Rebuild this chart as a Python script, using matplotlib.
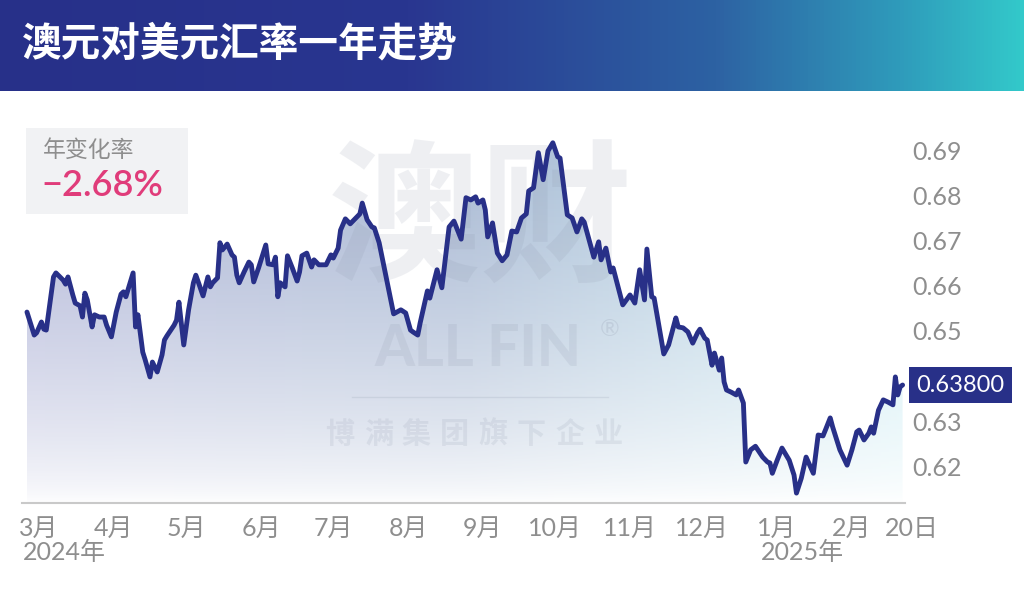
import numpy as np
import matplotlib
matplotlib.use("Agg")
import matplotlib.pyplot as plt
import matplotlib.dates as mdates
from matplotlib.patches import Rectangle, Polygon
from matplotlib.colors import LinearSegmentedColormap

# ---------------- data ----------------
title = "澳元对美元汇率一年走势"
start_date = np.datetime64("2024-02-20")
day_offsets = [
    5, 8, 9, 11, 12, 13, 16, 17, 20, 21, 22, 24, 25, 27, 28, 29, 30, 32, 33, 35,
    37, 38, 40, 42, 44, 45, 46, 49, 50, 51, 53, 54, 56, 57, 59, 61, 62, 63, 66, 67,
    68, 70, 72, 74, 75,
    76, 78, 80, 81, 82, 84, 85, 86, 88, 90, 91, 92, 93, 95, 97, 98, 99, 101, 104, 105,
    107, 108, 109, 110, 112, 113, 115, 117, 118, 119, 121, 123, 124, 126, 129, 130, 131, 132, 134, 135,
    137, 139, 141, 143, 144, 146, 148,
    149, 151, 157, 160, 162, 164, 165, 167, 168, 171, 172, 175, 177, 180, 182, 185, 187, 189, 191, 192,
    194, 195, 196, 198, 200, 202, 204, 206, 208, 210, 212, 213, 215, 217, 219, 221,
    223, 225, 226, 229, 231, 233, 235, 236, 240, 242, 243, 245, 247, 248, 252, 255, 257, 259, 261, 262,
    264, 265, 269, 271, 274, 275, 277, 279, 281, 283, 284, 286, 287, 289, 290, 292, 293, 294,
    295, 297, 299, 300, 302, 303, 305, 307, 310, 312, 313, 314, 316, 318, 321, 323, 324, 326, 328, 330,
    331, 333, 335, 336, 338, 339, 342, 345, 347, 349, 350, 352, 354, 355, 356, 358, 360, 362, 364, 365,
    366, 367, 368,
]
rates = [
    0.6542, 0.6491, 0.6496, 0.6520, 0.6504, 0.6502, 0.6620, 0.6629, 0.6613, 0.6604,
    0.6620, 0.6580, 0.6562, 0.6556, 0.6531, 0.6584, 0.6569, 0.6509, 0.6536, 0.6531,
    0.6531, 0.6513, 0.6487, 0.6542, 0.6582, 0.6587, 0.6576, 0.6629, 0.6509, 0.6536,
    0.6453, 0.6436, 0.6398, 0.6431, 0.6409, 0.6447, 0.6480, 0.6489, 0.6513, 0.6524,
    0.6564, 0.6469, 0.6547, 0.6607, 0.6624,
    0.6609, 0.6578, 0.6620, 0.6598, 0.6607, 0.6618, 0.6696, 0.6680, 0.6693, 0.6669,
    0.6664, 0.6624, 0.6607, 0.6631, 0.6653, 0.6647, 0.6609, 0.6640, 0.6691, 0.6649,
    0.6647, 0.6664, 0.6576, 0.6607, 0.6598, 0.6667, 0.6640, 0.6611, 0.6631, 0.6667,
    0.6673, 0.6642, 0.6658, 0.6647, 0.6647, 0.6658, 0.6669, 0.6662, 0.6684, 0.6724,
    0.6749, 0.6738, 0.6749, 0.6760, 0.6784, 0.6747, 0.6731,
    0.6729, 0.6696, 0.6538, 0.6547, 0.6540, 0.6502, 0.6498, 0.6491, 0.6518, 0.6589,
    0.6573, 0.6636, 0.6596, 0.6731, 0.6744, 0.6704, 0.6796, 0.6791, 0.6798, 0.6784,
    0.6791, 0.6769, 0.6709, 0.6740, 0.6673, 0.6656, 0.6669, 0.6722, 0.6720, 0.6751,
    0.6760, 0.6811, 0.6818, 0.6896, 0.6836, 0.6900,
    0.6918, 0.6887, 0.6884, 0.6758, 0.6751, 0.6720, 0.6749, 0.6742, 0.6664, 0.6698,
    0.6658, 0.6684, 0.6631, 0.6640, 0.6558, 0.6580, 0.6562, 0.6636, 0.6569, 0.6682,
    0.6576, 0.6573, 0.6449, 0.6469, 0.6529, 0.6509, 0.6507, 0.6498, 0.6473, 0.6496,
    0.6504, 0.6484, 0.6480, 0.6424, 0.6451, 0.6413, 0.6440, 0.6387,
    0.6369, 0.6364, 0.6358, 0.6369, 0.6340, 0.6209, 0.6236, 0.6244, 0.6220, 0.6209,
    0.6207, 0.6184, 0.6213, 0.6240, 0.6213, 0.6180, 0.6140, 0.6173, 0.6220, 0.6196,
    0.6184, 0.6269, 0.6267, 0.6280, 0.6307, 0.6287, 0.6236, 0.6202, 0.6236, 0.6276,
    0.6280, 0.6258, 0.6273, 0.6287, 0.6273, 0.6324, 0.6347, 0.6342, 0.6336, 0.6398,
    0.6358, 0.6376, 0.6380,
]
annual_change_label = "年变化率"
annual_change = -2.68
ytick_values = [0.62, 0.63, 0.64, 0.65, 0.66, 0.67, 0.68, 0.69]
month_tick_dates = ["2024-03-01", "2024-04-01", "2024-05-01", "2024-06-01", "2024-07-01",
                    "2024-08-01", "2024-09-01", "2024-10-01", "2024-11-01", "2024-12-01",
                    "2025-01-01", "2025-02-01"]
month_tick_labels = ["3月", "4月", "5月", "6月", "7月", "8月", "9月", "10月", "11月", "12月",
                     "1月", "2月"]
end_label = "20日"
year_tick_dates = ["2024-03-01", "2025-01-01"]
year_tick_labels = ["2024年", "2025年"]
wm_big = "澳财"
wm_brand = "ALL FIN"
wm_sub = "博满集团旗下企业"

# ---------------- style ----------------
LAT = ["Lato", "Noto Sans CJK SC", "DejaVu Sans"]
CJK = ["Noto Sans CJK SC", "DejaVu Sans"]
NAVY = "#283088"
GRAY = "#8e8e8e"

W, H = 1024, 607
fig = plt.figure(figsize=(W / 100, H / 100), dpi=100)
fig.patch.set_facecolor("white")

# header band
hh = 91
hax = fig.add_axes([0, 1 - hh / H, 1, hh / H])
hcmap = LinearSegmentedColormap.from_list(
    "hdr", [(0, "#273089"), (0.40, "#293690"), (0.70, "#2d62a3"), (0.88, "#2f9bbb"), (1.0, "#33c9ca")])
hax.imshow(np.linspace(0, 1, 512)[None, :], cmap=hcmap, aspect="auto", extent=[0, 1, 0, 1])
hax.set_xlim(0, 1); hax.set_ylim(0, 1)
hax.axis("off")
hax.text(22 / W, 1 - 44 / hh, title, color="white", fontsize=28.5, fontweight="black",
         family=CJK, ha="left", va="center")

# main axes
ax_l, ax_r, ax_t, ax_b = 22, 905, 100, 503
ax = fig.add_axes([ax_l / W, 1 - ax_b / H, (ax_r - ax_l) / W, (ax_b - ax_t) / H])
ax.set_facecolor("none")

dates = start_date + np.array(day_offsets).astype("timedelta64[D]")
xnum = mdates.date2num(dates)
x0 = mdates.date2num(start_date)
ax.set_xlim(x0 + 2.94, x0 + 369.0)
ybot, ytop = 0.6118, 0.7013
ax.set_ylim(ybot, ytop)

# gradient fill under the line
gh, gw = 300, 500
fy = np.linspace(0, 1, gh)[:, None]
fx = np.linspace(0, 1, gw)[None, :]
c_left = np.array([0.68, 0.70, 0.84])
c_mid = np.array([0.64, 0.71, 0.82])
c_right = np.array([0.78, 0.92, 0.95])
col = np.where(fx[..., None] < 0.5,
               c_left + (c_mid - c_left) * (fx[..., None] / 0.5),
               c_mid + (c_right - c_mid) * ((fx[..., None] - 0.5) / 0.5))
col = np.broadcast_to(col, (gh, gw, 3))
alpha = 0.95 * np.clip(fy, 0, 1) ** 0.65
alpha = np.broadcast_to(alpha, (gh, gw))
rgba = np.dstack([col, alpha])
gtop = 0.692
im = ax.imshow(rgba, extent=(xnum[0], xnum[-1], ybot, gtop), origin="lower",
               aspect="auto", zorder=1, interpolation="bilinear")
verts = [(xnum[0], ybot)] + list(zip(xnum, rates)) + [(xnum[-1], ybot)]
poly = Polygon(verts, closed=True, facecolor="none", edgecolor="none")
ax.add_patch(poly)
im.set_clip_path(poly)

# watermark
def axfrac(px, py):
    return (px - ax_l) / (ax_r - ax_l), (ax_b - py) / (ax_b - ax_t)

wm_col = "#8a93a8"
wx, wy = axfrac(480, 224)
ax.text(wx, wy, wm_big, transform=ax.transAxes, fontsize=110, fontweight="black", family=CJK,
        color=wm_col, alpha=0.14, ha="center", va="center", zorder=1.5)
bx, by = axfrac(478, 349)
ax.text(bx, by, wm_brand, transform=ax.transAxes, fontsize=41, fontweight="black", family=LAT,
        color=wm_col, alpha=0.15, ha="center", va="center", zorder=1.5)
rx, ry = axfrac(610, 330)
ax.text(rx, ry, "®", transform=ax.transAxes, fontsize=17, family=LAT,
        color=wm_col, alpha=0.2, ha="center", va="center", zorder=1.5)
lx0, ly = axfrac(352, 397)
lx1, _ = axfrac(608, 397)
ax.plot([lx0, lx1], [ly, ly], transform=ax.transAxes, color=wm_col, alpha=0.18, lw=1, zorder=1.5)
for i, ch in enumerate(wm_sub):
    cx, cy = axfrac(340 + i * (608 - 340) / (len(wm_sub) - 1), 434)
    ax.text(cx, cy, ch, transform=ax.transAxes, fontsize=21, fontweight="bold", family=CJK,
            color=wm_col, alpha=0.15, ha="center", va="center", zorder=1.5)

# line
ax.plot(xnum, rates, color=NAVY, lw=3.5, solid_joinstyle="round", solid_capstyle="round", zorder=3)

# axes styling
for s in ["top", "left", "right"]:
    ax.spines[s].set_visible(False)
ax.spines["bottom"].set_color("#c9c9c9")
ax.spines["bottom"].set_linewidth(1.5)

ax.yaxis.tick_right()
ax.set_yticks(ytick_values)
ax.set_yticklabels([f"{v:.2f}" for v in ytick_values])
ax.tick_params(axis="y", length=0, pad=5, labelsize=18, labelcolor=GRAY)
for t in ax.get_yticklabels():
    t.set_family(LAT)

xpad = 10
ax.set_xticks(mdates.date2num(np.array(month_tick_dates, dtype="datetime64[D]")))
ax.set_xticklabels(month_tick_labels)
ax.tick_params(axis="x", length=0, pad=xpad, labelsize=18, labelcolor=GRAY)
for t in ax.get_xticklabels():
    t.set_family(LAT)

ax.annotate(end_label, xy=(xnum[-1], 0), xycoords=("data", "axes fraction"),
            xytext=(6.5, -xpad), textcoords="offset points", ha="center", va="top",
            fontsize=18, color=GRAY, family=LAT, annotation_clip=False)
for d, lab in zip(year_tick_dates, year_tick_labels):
    ax.annotate(lab, xy=(mdates.date2num(np.datetime64(d)), 0), xycoords=("data", "axes fraction"),
                xytext=(-11.5, -27), textcoords="offset points", ha="left", va="top",
                fontsize=18, color=GRAY, family=LAT, annotation_clip=False)

# last value label
ax.annotate(f"{rates[-1]:.5f}", xy=(xnum[-1], rates[-1]), xytext=(10, 0),
            textcoords="offset points", ha="left", va="center", fontsize=17, color="white",
            family=LAT, annotation_clip=False, zorder=5,
            bbox=dict(boxstyle="square,pad=0.3", fc=NAVY, ec="none"))

# annual change box
fig.add_artist(Rectangle((26 / W, 1 - 214 / H), 162 / W, 86 / H, transform=fig.transFigure,
                         facecolor="#f1f2f4", edgecolor="none", zorder=4))
fig.text(43 / W, 1 - 150 / H, annual_change_label, fontsize=16.5, color=GRAY, family=CJK,
         ha="left", va="center", zorder=5)
fig.text(41 / W, 1 - 186 / H, f"{annual_change:.2f}%".replace("-", "\u2212"), fontsize=26,
         fontweight="semibold", color="#e03c7a", family=LAT, ha="left", va="center", zorder=5)

fig.savefig("out.png", dpi=100)
